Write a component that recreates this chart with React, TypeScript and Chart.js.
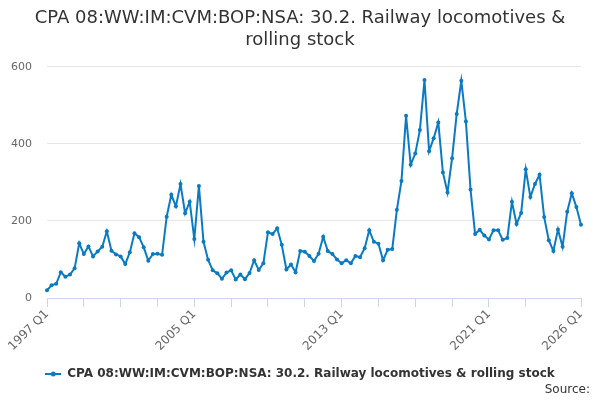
import React, { useEffect, useRef } from "react";
import { Chart, registerables } from "chart.js";

Chart.register(...registerables);

const titleLines = ["CPA 08:WW:IM:CVM:BOP:NSA: 30.2. Railway locomotives &", "rolling stock"];
const seriesName = "CPA 08:WW:IM:CVM:BOP:NSA: 30.2. Railway locomotives & rolling stock";

const firstYear = 1997;
const quarterNames = ["Q1", "Q2", "Q3", "Q4"];

// quarterly values, 1997 Q1 .. 2026 Q1
const values = [
  20, 33, 37, 67, 55, 61, 77, 142, 114, 134, 108, 121, 133, 173, 123, 113,
  108, 88, 119, 168, 158, 132, 97, 114, 115, 112, 211, 268, 238, 296, 220, 250,
  153, 291, 146, 99, 72, 64, 50, 66, 72, 48, 61, 49, 65, 98, 73, 90,
  171, 166, 181, 138, 74, 87, 67, 122, 120, 109, 96, 115, 159, 122, 114, 100,
  90, 98, 90, 109, 106, 129, 176, 146, 141, 98, 125, 127, 229, 304, 473, 346,
  375, 436, 566, 381, 415, 456, 326, 274, 363, 478, 564, 458, 282, 166, 177, 162,
  152, 176, 176, 151, 156, 250, 192, 221, 334, 262, 296, 320, 210, 150, 122, 178,
  133, 224, 272, 236, 190,
];

const categories = values.map(
  (_, i) => `${firstYear + Math.floor(i / 4)} ${quarterNames[i % 4]}`
);

const tickLabels = ["1997 Q1", "2005 Q1", "2013 Q1", "2021 Q1", "2026 Q1"];
const tickMarks = [
  "1997 Q1", "1999 Q1", "2001 Q1", "2003 Q1", "2005 Q1", "2007 Q1", "2009 Q1",
  "2011 Q1", "2013 Q1", "2015 Q1", "2017 Q1", "2019 Q1", "2021 Q1", "2023 Q1",
  "2026 Q1",
];

const yTicks = [0, 200, 400, 600];

const lineColor = "#0a7bc2";
const font = "'DejaVu Sans', sans-serif";

// small line-with-dot symbol for the legend
const legendSymbol = () => {
  const c = document.createElement("canvas");
  c.width = 16;
  c.height = 6;
  const g = c.getContext("2d")!;
  g.strokeStyle = lineColor;
  g.lineWidth = 2;
  g.beginPath();
  g.moveTo(0, 3);
  g.lineTo(16, 3);
  g.stroke();
  g.fillStyle = lineColor;
  g.beginPath();
  g.arc(8, 3, 2.5, 0, Math.PI * 2);
  g.fill();
  return c;
};

const sourcePlugin = {
  id: "sourceText",
  afterDraw(chart: Chart) {
    const ctx = chart.ctx;
    ctx.save();
    ctx.font = `12px ${font}`;
    ctx.fillStyle = "#333";
    ctx.textAlign = "right";
    ctx.textBaseline = "middle";
    ctx.fillText("Source:", chart.width - 10, 390);
    ctx.restore();
  },
};

const App = () => {
  const chartRef = useRef<HTMLCanvasElement>(null);

  useEffect(() => {
    const ctx = chartRef.current?.getContext("2d");
    if (!ctx) return;

    const chart = new Chart(ctx, {
      type: "line",
      data: {
        labels: categories,
        datasets: [
          {
            label: seriesName,
            data: values,
            borderColor: lineColor,
            backgroundColor: lineColor,
            borderWidth: 2,
            pointRadius: 2,
            pointBackgroundColor: lineColor,
            pointBorderWidth: 0,
            pointStyle: "circle",
            tension: 0,
          },
        ],
      },
      options: {
        animation: false,
        responsive: false,
        layout: { padding: { left: 0, right: 0, top: 0, bottom: 10 } },
        plugins: {
          title: {
            display: true,
            text: titleLines,
            color: "#333",
            font: { family: font, size: 18, weight: "normal", lineHeight: 1.22 },
            padding: { top: 7, bottom: 16 },
          },
          legend: {
            position: "bottom",
            labels: {
              color: "#333",
              font: { family: font, size: 12, weight: "bold" },
              usePointStyle: true,
              pointStyleWidth: 16,
              padding: 10,
              generateLabels: (c: any) => {
                const items = Chart.defaults.plugins.legend.labels.generateLabels(c);
                return items.map((it: any) => ({ ...it, pointStyle: legendSymbol() }));
              },
            },
          },
          tooltip: { enabled: false },
        },
        scales: {
          x: {
            type: "category",
            offset: false,
            afterBuildTicks: (scale: any) => {
              scale.ticks = scale.ticks.filter((t: any) =>
                tickMarks.includes(categories[t.value])
              );
            },
            afterFit: (scale: any) => {
              scale.height = 60;
            },
            border: { display: true, color: "#ccd6eb" },
            grid: {
              drawOnChartArea: false,
              drawTicks: true,
              tickLength: 9,
              tickColor: "#ccd6eb",
            },
            ticks: {
              autoSkip: false,
              minRotation: 45,
              maxRotation: 45,
              padding: 0,
              color: "#666",
              font: { family: font, size: 12 },
              callback: (value: any) => {
                const label = categories[value as number];
                return tickLabels.includes(label) ? label : "";
              },
            },
          },
          y: {
            min: 0,
            max: 600,
            afterBuildTicks: (scale: any) => {
              scale.ticks = yTicks.map((v) => ({ value: v }));
            },
            afterFit: (scale: any) => {
              scale.width = 47;
            },
            border: { display: false },
            grid: { color: "#e6e6e6", drawTicks: false },
            ticks: {
              padding: 15,
              color: "#666",
              font: { family: font, size: 11 },
            },
          },
          yRight: {
            position: "right",
            display: true,
            afterFit: (scale: any) => {
              scale.width = 19;
            },
            border: { display: false },
            grid: { display: false },
            ticks: { display: false },
          },
        },
      },
      plugins: [sourcePlugin],
    });

    return () => {
      chart.destroy();
    };
  }, []);

  return (
    <div style={{ position: "fixed", left: 0, top: 0, width: 600, height: 400, background: "#fff" }}>
      <canvas ref={chartRef} width={600} height={400} />
    </div>
  );
};

export default App;
